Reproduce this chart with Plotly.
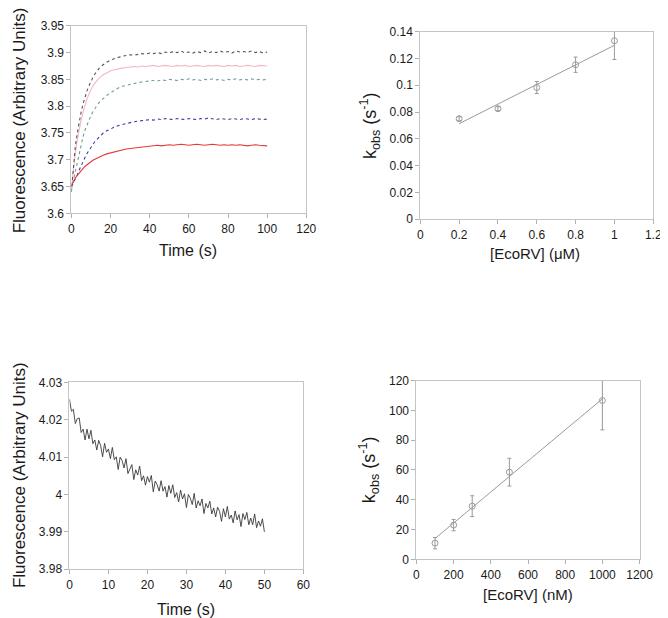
import plotly.graph_objects as go

# ---------------- Data ----------------
# Panel A: fluorescence traces (s, arbitrary units)
trace_time = [0, 1, 2, 3, 4, 5, 6, 7, 8, 9, 10, 11, 12, 13, 14, 15,
              16, 18, 20, 22, 24, 26, 28, 30, 32, 34, 36, 38, 40, 42, 44, 46, 48, 50,
              52, 54, 56, 58, 60, 62, 64, 66, 68, 70, 72, 74, 76, 78, 80, 82, 84, 86,
              88, 90, 92, 94, 96, 98, 100]
trace_black = [3.640, 3.690, 3.725, 3.750, 3.772, 3.790, 3.805, 3.818, 3.829, 3.838, 3.847, 3.854,
               3.860, 3.866, 3.870, 3.874,
               3.877, 3.882, 3.886, 3.889, 3.891, 3.893, 3.894, 3.896, 3.895, 3.897, 3.898, 3.897,
               3.899, 3.898, 3.900, 3.898, 3.901, 3.899, 3.902, 3.900, 3.903, 3.899, 3.901, 3.899,
               3.902, 3.900, 3.903, 3.899, 3.902, 3.900, 3.903, 3.900, 3.902, 3.899, 3.903, 3.901,
               3.902, 3.900, 3.903, 3.900, 3.902, 3.899, 3.901]
trace_pink = [3.650, 3.685, 3.712, 3.738, 3.758, 3.775, 3.790, 3.803, 3.814, 3.823, 3.831, 3.838,
              3.843, 3.848, 3.852, 3.855,
              3.858, 3.862, 3.866, 3.868, 3.870, 3.871, 3.872, 3.873, 3.874, 3.873, 3.875, 3.874,
              3.875, 3.876, 3.874, 3.875, 3.876, 3.875, 3.874, 3.876, 3.875, 3.876, 3.874, 3.875,
              3.876, 3.875, 3.874, 3.876, 3.875, 3.876, 3.875, 3.874, 3.876, 3.875, 3.876, 3.874,
              3.875, 3.876, 3.875, 3.874, 3.876, 3.875, 3.875]
trace_green = [3.645, 3.662, 3.680, 3.697, 3.715, 3.730, 3.744, 3.756, 3.766, 3.775, 3.783, 3.790,
               3.796, 3.801, 3.806, 3.810,
               3.814, 3.820, 3.825, 3.830, 3.834, 3.837, 3.839, 3.841, 3.843, 3.844, 3.845, 3.846,
               3.847, 3.848, 3.847, 3.849, 3.848, 3.850, 3.849, 3.848, 3.850, 3.849, 3.851, 3.849,
               3.850, 3.848, 3.850, 3.849, 3.851, 3.849, 3.850, 3.848, 3.850, 3.849, 3.851, 3.849,
               3.850, 3.849, 3.851, 3.849, 3.850, 3.849, 3.850]
trace_blue = [3.650, 3.657, 3.664, 3.672, 3.681, 3.690, 3.698, 3.705, 3.712, 3.718, 3.724, 3.729,
              3.734, 3.738, 3.742, 3.746,
              3.749, 3.754, 3.758, 3.761, 3.764, 3.766, 3.768, 3.770, 3.771, 3.772, 3.773, 3.774,
              3.775, 3.774, 3.776, 3.775, 3.777, 3.776, 3.775, 3.777, 3.776, 3.775, 3.777, 3.776,
              3.775, 3.777, 3.776, 3.778, 3.776, 3.775, 3.777, 3.776, 3.775, 3.777, 3.776, 3.775,
              3.777, 3.776, 3.775, 3.777, 3.776, 3.775, 3.776]
trace_red = [3.652, 3.660, 3.666, 3.671, 3.676, 3.680, 3.684, 3.688, 3.691, 3.694, 3.697, 3.699,
             3.701, 3.703, 3.705, 3.707,
             3.708, 3.711, 3.713, 3.715, 3.717, 3.719, 3.720, 3.721, 3.722, 3.723, 3.724, 3.725,
             3.725, 3.726, 3.727, 3.726, 3.727, 3.728, 3.727, 3.728, 3.729, 3.728, 3.727, 3.728,
             3.729, 3.728, 3.727, 3.728, 3.729, 3.728, 3.727, 3.728, 3.727, 3.728, 3.727, 3.728,
             3.727, 3.726, 3.727, 3.728, 3.727, 3.726, 3.726]

# Panel B: kobs vs [EcoRV] (uM)
conc_um = [0.2, 0.4, 0.6, 0.8, 1.0]
kobs_b = [0.075, 0.0825, 0.0983, 0.1153, 0.1332]
kobs_b_err = [0.0015, 0.0015, 0.0045, 0.0057, 0.014]
fit_b_x = [0.2, 1.0]
fit_b_y = [0.0713, 0.1298]

# Panel C: single noisy decay trace
decay_time = [0, 0.5, 1, 1.5, 2, 2.5, 3, 3.5, 4, 4.5, 5, 5.5, 6, 6.5, 7, 7.5, 8, 8.5, 9, 9.5,
              10, 10.5, 11, 11.5, 12, 12.5, 13, 13.5, 14, 14.5, 15, 15.5, 16, 16.5, 17, 17.5,
              18, 18.5, 19, 19.5, 20, 20.5, 21, 21.5, 22, 22.5, 23, 23.5, 24, 24.5, 25, 25.5,
              26, 26.5, 27, 27.5, 28, 28.5, 29, 29.5, 30, 30.5, 31, 31.5, 32, 32.5, 33, 33.5,
              34, 34.5, 35, 35.5, 36, 36.5, 37, 37.5, 38, 38.5, 39, 39.5, 40, 40.5, 41, 41.5,
              42, 42.5, 43, 43.5, 44, 44.5, 45, 45.5, 46, 46.5, 47, 47.5, 48, 48.5, 49, 49.5, 50]
decay_signal = [4.0255, 4.0223, 4.0228, 4.0190, 4.0203, 4.0205, 4.0166, 4.0175, 4.0146, 4.0175,
                4.0149, 4.0172, 4.0136, 4.0146, 4.0119, 4.0145, 4.0131, 4.0101, 4.0137, 4.0113,
                4.0122, 4.0096, 4.0126, 4.0093, 4.0101, 4.0067, 4.0100, 4.0091, 4.0071, 4.0096,
                4.0056, 4.0071, 4.0080, 4.0040, 4.0066, 4.0052, 4.0076, 4.0037, 4.0050, 4.0025,
                4.0048, 4.0033, 4.0051, 4.0007, 4.0036, 4.0026, 4.0009, 4.0037, 4.0009, 4.0021,
                3.9993, 4.0024, 4.0003, 4.0026, 3.9992, 4.0005, 3.9980, 4.0012, 3.9988, 4.0002,
                3.9965, 4.0000, 3.9990, 3.9973, 4.0003, 3.9964, 3.9983, 3.9970, 3.9988, 3.9949,
                3.9976, 3.9964, 3.9982, 3.9948, 3.9964, 3.9940, 3.9966, 3.9955, 3.9928, 3.9962,
                3.9940, 3.9968, 3.9934, 3.9945, 3.9924, 3.9956, 3.9932, 3.9946, 3.9914, 3.9949,
                3.9933, 3.9952, 3.9919, 3.9937, 3.9919, 3.9948, 3.9911, 3.9929, 3.9915, 3.9935,
                3.9900]

# Panel D: kobs vs [EcoRV] (nM)
conc_nm = [100, 200, 300, 500, 1000]
kobs_d = [10.9, 23.0, 35.7, 58.5, 106.6]
kobs_d_err = [3.8, 3.8, 7.0, 9.3, 19.7]
fit_d_x = [100, 1000]
fit_d_y = [14.0, 107.7]

# ---------------- Figure ----------------
W, H = 668, 618
FONT = "Liberation Sans, Arial, sans-serif"
TXT = "#1a1a1a"
GRAY = "#9a9a9a"


def px(x):
    return x / W


def py(y):
    return 1 - y / H


fig = go.Figure()

line_colors = {"black": "#555555", "pink": "#f2b8c0", "green": "#6f9c8f",
               "blue": "#3b3ba8", "red": "#e23a3a"}
for name, ys in [("pink", trace_pink), ("black", trace_black), ("green", trace_green),
                 ("blue", trace_blue), ("red", trace_red)]:
    fig.add_trace(go.Scatter(x=trace_time, y=ys, mode="lines", xaxis="x", yaxis="y",
                             line=dict(color=line_colors[name], width=1.1,
                                       dash="solid" if name in ("red", "pink") else "dot"),
                             showlegend=False, hoverinfo="skip"))

fig.add_trace(go.Scatter(x=fit_b_x, y=fit_b_y, mode="lines", xaxis="x2", yaxis="y2",
                         line=dict(color=GRAY, width=1), showlegend=False))
fig.add_trace(go.Scatter(x=conc_um, y=kobs_b, mode="markers", xaxis="x2", yaxis="y2",
                         marker=dict(symbol="circle-open", size=6, color=GRAY, line=dict(width=1)),
                         error_y=dict(type="data", array=kobs_b_err, color=GRAY, thickness=1, width=2),
                         showlegend=False))

fig.add_trace(go.Scatter(x=decay_time, y=decay_signal, mode="lines", xaxis="x3", yaxis="y3",
                         line=dict(color="#3a3a3a", width=0.9), showlegend=False))

fig.add_trace(go.Scatter(x=fit_d_x, y=fit_d_y, mode="lines", xaxis="x4", yaxis="y4",
                         line=dict(color=GRAY, width=1), showlegend=False))
fig.add_trace(go.Scatter(x=conc_nm, y=kobs_d, mode="markers", xaxis="x4", yaxis="y4",
                         marker=dict(symbol="circle-open", size=6, color=GRAY, line=dict(width=1)),
                         error_y=dict(type="data", array=kobs_d_err, color=GRAY, thickness=1, width=2),
                         showlegend=False))


def axis(domain, rng, dtick, anchor):
    return dict(domain=domain, range=rng, dtick=dtick, tick0=rng[0], anchor=anchor,
                showline=True, linecolor="#c4c4c4", linewidth=1, mirror=True,
                showgrid=False, zeroline=False, ticks="outside", ticklen=4,
                tickcolor="#b0b0b0", tickfont=dict(family=FONT, size=12, color=TXT))


fig.update_layout(
    width=W, height=H, margin=dict(l=0, r=0, t=0, b=0),
    paper_bgcolor="white", plot_bgcolor="white",
    xaxis=axis([px(62), px(303)], [0, 120], 20, "y"),
    yaxis=axis([py(203), py(11)], [3.6, 3.95], 0.05, "x"),
    xaxis2=axis([px(420), px(659)], [0, 1.2], 0.2, "y2"),
    yaxis2=axis([py(209), py(17)], [0, 0.14], 0.02, "x2"),
    xaxis3=axis([px(60), px(300)], [0, 60], 10, "y3"),
    yaxis3=axis([py(567), py(376)], [3.98, 4.03], 0.01, "x3"),
    xaxis4=axis([px(416), px(645)], [0, 1200], 200, "y4"),
    yaxis4=axis([py(557), py(374)], [0, 120], 20, "x4"),
)

ann = []


def title(text, x, y, size, angle=0):
    ann.append(dict(text=text, x=px(x), y=py(y), xref="paper", yref="paper",
                    showarrow=False, textangle=angle, xanchor="center", yanchor="middle",
                    font=dict(family=FONT, size=size, color=TXT)))


title("Fluorescence (Arbitrary Units)", 9, 108, 17, -90)
title("Time (s)", 182, 241, 16)
title("k<sub>obs</sub> (s<sup>-1</sup>)", 368, 113, 18, -90)
title("[EcoRV] (μM)", 538, 244, 15)
title("Fluorescence (Arbitrary Units)", 9, 471, 17, -90)
title("Time (s)", 180, 608, 16)
title("k<sub>obs</sub> (s<sup>-1</sup>)", 367, 465, 18, -90)
title("[EcoRV] (nM)", 530, 593, 15)

fig.update_layout(annotations=ann)
fig.write_html("out.html")
